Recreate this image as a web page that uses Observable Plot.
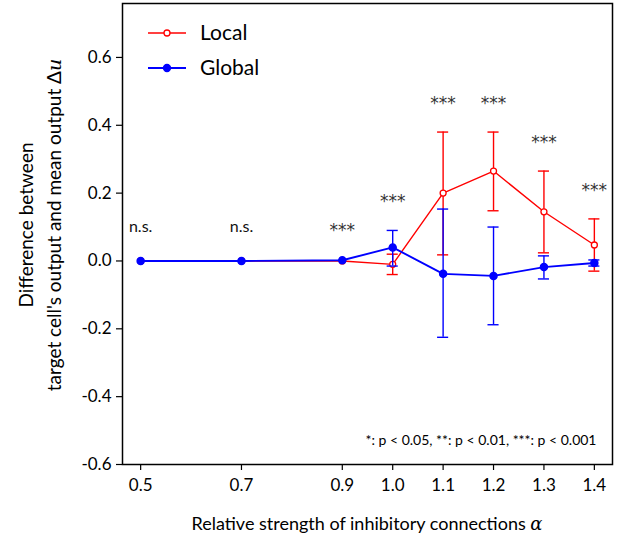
<!DOCTYPE html>
<html>
<head>
<meta charset="utf-8">
<script src="https://cdn.jsdelivr.net/npm/d3@7"></script>
<script src="https://cdn.jsdelivr.net/npm/@observablehq/plot@0.6"></script>
<style>
  html, body { margin: 0; padding: 0; background: #fff; }
  #chart svg { display: block; }
</style>
</head>
<body>
<div id="chart"></div>
<script>
// ---- data ----
const alpha = [0.5, 0.7, 0.9, 1.0, 1.1, 1.2, 1.3, 1.4];
const localMean = [0, 0, 0.0, -0.01, 0.2, 0.265, 0.145, 0.047];
const localLo   = [0, 0, 0.0, -0.04, 0.018, 0.148, 0.024, -0.03];
const localHi   = [0, 0, 0.0, 0.02, 0.38, 0.38, 0.265, 0.124];
const globalMean = [0, 0, 0.002, 0.04, -0.038, -0.044, -0.018, -0.006];
const globalLo   = [0, 0, 0.002, -0.015, -0.225, -0.188, -0.053, -0.015];
const globalHi   = [0, 0, 0.002, 0.09, 0.153, 0.1, 0.015, 0.003];
const sigLabels = ["n.s.", "n.s.", "***", "***", "***", "***", "***", "***"];
const sigY      = [0.1, 0.1, 0.1, 0.188, 0.476, 0.476, 0.362, 0.22];
const xTicks = [0.5, 0.7, 0.9, 1.0, 1.1, 1.2, 1.3, 1.4];
const yTicks = [-0.6, -0.4, -0.2, 0.0, 0.2, 0.4, 0.6];
const seriesNames = ["Local", "Global"];
const seriesColors = ["#ff0000", "#0000ff"];
const footnote = "*: p < 0.05, **: p < 0.01, ***: p < 0.001";

// ---- tables ----
const local = alpha.map((a, i) => ({x: a, y: localMean[i], lo: localLo[i], hi: localHi[i]}));
const global = alpha.map((a, i) => ({x: a, y: globalMean[i], lo: globalLo[i], hi: globalHi[i]}));
const sig = alpha.map((a, i) => ({x: a, y: sigY[i], t: sigLabels[i]}));
const withErr = arr => arr.filter(d => d.hi - d.lo > 0.001);
const capHalf = 0.011;
const caps = arr => withErr(arr).flatMap(d => [{x: d.x, y: d.lo}, {x: d.x, y: d.hi}]);

const font = "Lato, 'Open Sans', sans-serif";
const starFont = "'DejaVu Sans', sans-serif";

const errMarks = (arr, color) => [
  Plot.ruleX(withErr(arr), {x: "x", y1: "lo", y2: "hi", stroke: color, strokeWidth: 1.4}),
  Plot.ruleY(caps(arr), {y: "y", x1: d => d.x - capHalf, x2: d => d.x + capHalf, stroke: color, strokeWidth: 1.4})
];

const chart = Plot.plot({
  width: 633,
  height: 540,
  marginLeft: 122,
  marginRight: 21,
  marginTop: 3,
  marginBottom: 76,
  style: {fontFamily: font, background: "#fff", color: "#000"},
  x: {domain: [0.464, 1.436]},
  y: {domain: [-0.6, 0.759]},
  marks: [
    Plot.axisX({ticks: xTicks, tickFormat: d => d.toFixed(1), tickSize: 6, tickPadding: 8, fontSize: 17, label: null, strokeWidth: 1.2}),
    Plot.axisY({ticks: yTicks, tickFormat: d => d.toFixed(1), tickSize: 6, tickPadding: 5, fontSize: 17, label: null, strokeWidth: 1.2}),
    ...errMarks(local, seriesColors[0]),
    Plot.line(local, {x: "x", y: "y", stroke: seriesColors[0], strokeWidth: 1.4}),
    Plot.dot(local, {x: "x", y: "y", r: 3, stroke: seriesColors[0], fill: "white", strokeWidth: 1.3}),
    ...errMarks(global, seriesColors[1]),
    Plot.line(global, {x: "x", y: "y", stroke: seriesColors[1], strokeWidth: 1.9}),
    Plot.dot(global, {x: "x", y: "y", r: 3.5, fill: seriesColors[1], stroke: seriesColors[1]}),
    Plot.text(sig.filter(d => d.t === "n.s."), {x: "x", y: "y", text: "t", fontSize: 16, fill: "#111"}),
    Plot.text(sig.filter(d => d.t !== "n.s."), {x: "x", y: "y", text: "t", fontSize: 17, dy: 4, fill: "#333", fontFamily: starFont}),
    Plot.text([footnote], {frameAnchor: "bottom-right", dx: -16, dy: -20, fontSize: 14, fill: "#000"}),
    Plot.frame({stroke: "#000", strokeWidth: 1.5})
  ]
});

document.getElementById("chart").appendChild(chart);

// ---- labels & legend ----
const svg = d3.select(chart);
svg.append("text")
  .attr("x", 367).attr("y", 530)
  .attr("text-anchor", "middle")
  .attr("font-family", font).attr("font-size", 18)
  .call(t => {
    t.append("tspan").text("Relative strength of inhibitory connections ");
    t.append("tspan").attr("font-style", "italic").attr("font-family", "'DejaVu Serif', serif").text("α");
  });

const yl = svg.append("g").attr("transform", "translate(0,225) rotate(-90)")
  .attr("font-family", font).attr("font-size", 19).attr("text-anchor", "middle");
yl.append("text").attr("x", 0).attr("y", 33).text("Difference between");
yl.append("text").attr("x", 0).attr("y", 61)
  .call(t => {
    t.append("tspan").text("target cell's output and mean output Δ");
    t.append("tspan").attr("font-style", "italic").attr("font-family", "'DejaVu Serif', serif").text("u");
  });

const leg = svg.append("g").attr("font-family", font).attr("font-size", 21).attr("text-anchor", "start");
seriesNames.forEach((name, i) => {
  const y = 33 + i * 35;
  const g = leg.append("g");
  g.append("line").attr("x1", 148).attr("x2", 186).attr("y1", y).attr("y2", y)
    .attr("stroke", seriesColors[i]).attr("stroke-width", i === 0 ? 1.4 : 1.9);
  g.append("circle").attr("cx", 167).attr("cy", y).attr("r", i === 0 ? 3 : 3.5)
    .attr("fill", i === 0 ? "white" : seriesColors[i]).attr("stroke", seriesColors[i]).attr("stroke-width", 1.3);
  g.append("text").attr("x", 200).attr("y", y + 7).attr("text-anchor", "start").text(name);
});
</script>
</body>
</html>
